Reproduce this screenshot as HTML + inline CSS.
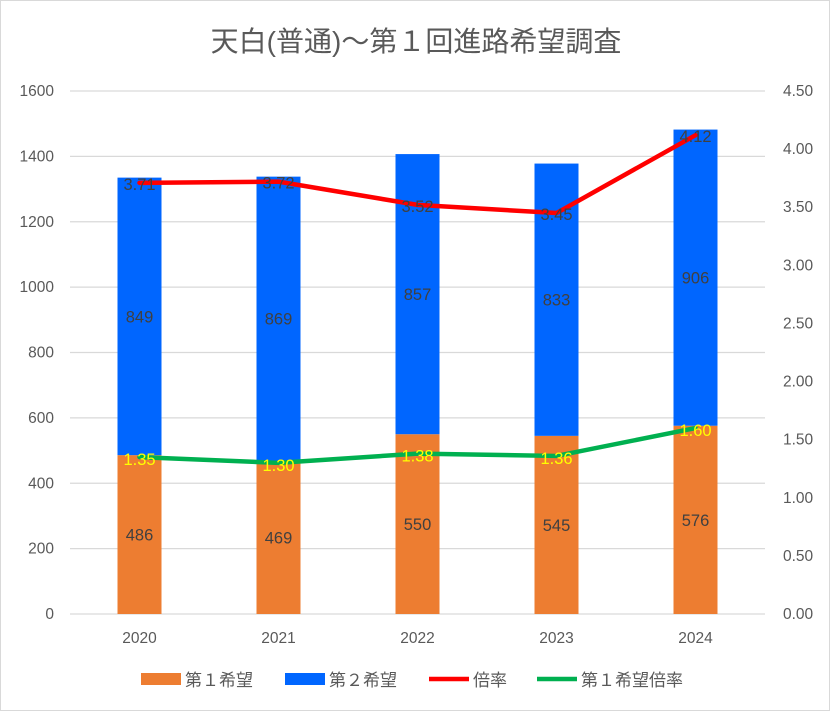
<!DOCTYPE html>
<html><head><meta charset="utf-8"><style>
body{margin:0;background:#fff}
svg text{font-family:"Liberation Sans","Noto Sans CJK JP",sans-serif}
</style></head><body>
<svg id="c" width="830" height="711">
<rect x="0.5" y="0.5" width="829" height="710" fill="#fff" stroke="#d9d9d9"/>
<text x="416" y="51" text-anchor="middle" font-size="28" fill="#595959">天白(普通)～第１回進路希望調査</text>
<g id="grid"></g><g id="bars"></g><g id="lines"></g><g id="labels"></g>
<g id="legend"></g>
</svg>
<script>
const categories=["2020","2021","2022","2023","2024"];
const first=[486,469,550,545,576];
const second=[849,869,857,833,906];
const ratio=[3.71,3.72,3.52,3.45,4.12];
const firstRatio=[1.35,1.30,1.38,1.36,1.60];
const leftTicks=[0,200,400,600,800,1000,1200,1400,1600];
const rightTicks=["0.00","0.50","1.00","1.50","2.00","2.50","3.00","3.50","4.00","4.50"];
const NS="http://www.w3.org/2000/svg";
const X0=70,X1=765,Y0=614,Y1=91;
const y=v=>Y0-(v/1600)*(Y0-Y1);
const yr=v=>Y0-(v/4.5)*(Y0-Y1);
const step=(X1-X0)/categories.length;
const xc=i=>X0+step*(i+0.5);
function el(t,a,p){const e=document.createElementNS(NS,t);for(const k in a)e.setAttribute(k,a[k]);document.getElementById(p).appendChild(e);return e;}
leftTicks.forEach(v=>{
 const l=el('line',{x1:X0,x2:X1,y1:y(v),y2:y(v),stroke:'#d9d9d9','stroke-width':1.3},'grid');
 
 
 const t=el('text',{x:54,y:y(v)+5,'text-anchor':'end','font-size':15.5,fill:'#595959'},'grid');t.textContent=v;
 
 
});
rightTicks.forEach(s=>{
 const t=el('text',{x:783,y:yr(parseFloat(s))+5,'font-size':15.5,fill:'#595959'},'grid');t.textContent=s;
 
 
});
const bw=44;
categories.forEach((c,i)=>{
 const x=xc(i)-bw/2;
 const b1=el('rect',{x:x,y:y(first[i]),width:bw,height:Y0-y(first[i]),fill:'#ed7d31'},'bars');
 
 
 const b2=el('rect',{x:x,y:y(first[i]+second[i]),width:bw,height:y(first[i])-y(first[i]+second[i]),fill:'#0066ff'},'bars');
 
 
 const t=el('text',{x:xc(i),y:643,'text-anchor':'middle','font-size':15.5,fill:'#595959'},'labels');t.textContent=c;
 
 
 const l1=el('text',{x:xc(i),y:(y(first[i])+Y0)/2+6,'text-anchor':'middle','font-size':16.5,fill:'#404040'},'labels');l1.textContent=first[i];
 
 
 const l2=el('text',{x:xc(i),y:(y(first[i])+y(first[i]+second[i]))/2+6,'text-anchor':'middle','font-size':16.5,fill:'#404040'},'labels');l2.textContent=second[i];
 
 
 const l3=el('text',{x:xc(i),y:yr(ratio[i])+7,'text-anchor':'middle','font-size':16.5,fill:'#404040'},'labels');l3.textContent=ratio[i].toFixed(2);
 
 
 const l4=el('text',{x:xc(i),y:yr(firstRatio[i])+8,'text-anchor':'middle','font-size':16.5,fill:'#ffff00'},'labels');l4.textContent=firstRatio[i].toFixed(2);
 
 
});
const p1=el('polyline',{points:ratio.map((v,i)=>xc(i)+','+yr(v)).join(' '),fill:'none',stroke:'#ff0000','stroke-width':4.5,'stroke-linejoin':'round','stroke-linecap':'round'},'lines');


const p2=el('polyline',{points:firstRatio.map((v,i)=>xc(i)+','+yr(v)).join(' '),fill:'none',stroke:'#00b050','stroke-width':4.5,'stroke-linejoin':'round','stroke-linecap':'round'},'lines');


const leg=[["第１希望",'#ed7d31','rect',141],["第２希望",'#0066ff','rect',285],["倍率",'#ff0000','line',429],["第１希望倍率",'#00b050','line',537]];
leg.forEach(([n,col,k,x])=>{
 const m=k==='rect'?el('rect',{x:x,y:673,width:40,height:12,fill:col},'legend'):el('line',{x1:x,x2:x+40,y1:679,y2:679,stroke:col,'stroke-width':4.5},'legend');
 
 
 const t=el('text',{x:x+44,y:686,'font-size':17,fill:'#595959'},'legend');t.textContent=n;
 
 
});
</script>
</body></html>
